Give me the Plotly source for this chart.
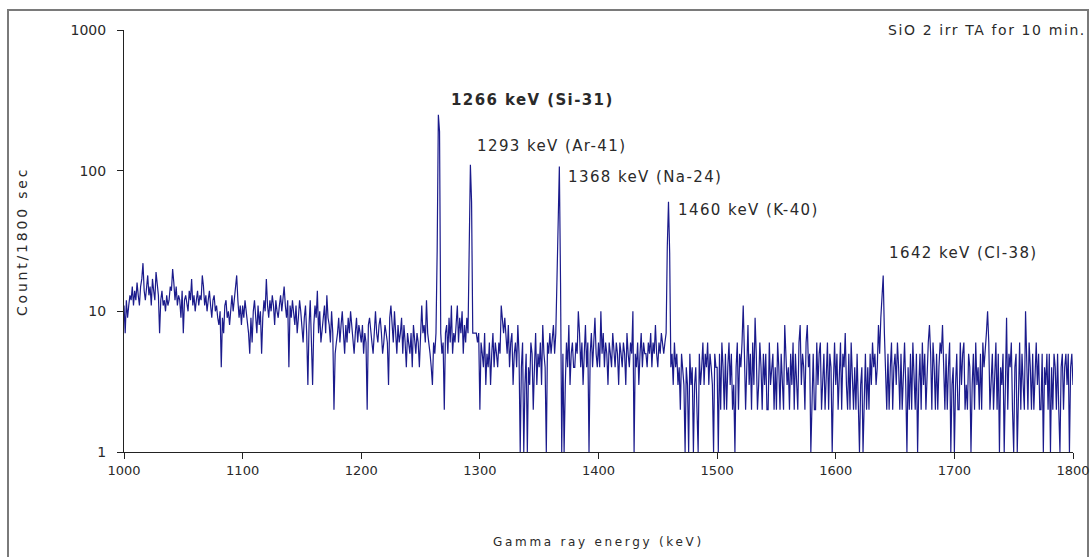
import plotly.graph_objects as go
import numpy as np

# Counts per 1 keV channel, split by 100 keV blocks
counts_1000 = [11, 7, 12, 9, 11, 13, 12, 15, 11, 14, 12, 16, 13, 11, 15, 17, 22, 14, 12, 16,
               18, 13, 15, 11, 17, 14, 12, 19, 15, 13, 7, 12, 14, 11, 12, 10, 13, 11, 12, 15,
               14, 20, 16, 12, 15, 11, 13, 12, 9, 14, 7, 12, 13, 11, 10, 14, 12, 17, 11, 13,
               10, 12, 14, 11, 13, 12, 18, 15, 11, 13, 10, 12, 14, 11, 9, 12, 13, 10, 11, 9,
               8, 10, 4, 9, 7, 11, 12, 9, 10, 8, 11, 13, 10, 12, 14, 18, 12, 9, 11, 8]
counts_1100 = [11, 9, 12, 10, 8, 7, 5, 9, 6, 10, 12, 9, 7, 11, 8, 10, 5, 9, 12, 10,
               17, 11, 9, 12, 10, 13, 11, 8, 12, 10, 9, 11, 13, 10, 12, 15, 11, 9, 12, 4,
               11, 9, 12, 10, 8, 11, 7, 9, 12, 10, 8, 6, 9, 11, 7, 3, 8, 12, 6, 3,
               8, 11, 9, 14, 7, 10, 6, 8, 9, 11, 7, 13, 9, 8, 6, 10, 7, 2, 5, 6,
               7, 9, 6, 8, 10, 7, 5, 8, 6, 9, 7, 10, 8, 6, 5, 7, 9, 6, 8, 7]
counts_1200 = [6, 8, 5, 7, 6, 2, 8, 9, 7, 6, 5, 8, 10, 7, 6, 8, 9, 7, 5, 6,
               8, 7, 6, 3, 9, 11, 8, 6, 10, 7, 5, 8, 6, 7, 9, 5, 8, 6, 4, 7,
               6, 5, 7, 4, 8, 6, 5, 7, 6, 4, 6, 11, 7, 8, 6, 12, 7, 6, 5, 4,
               3, 6, 5, 7, 27, 250, 190, 7, 5, 6, 2, 7, 8, 5, 9, 6, 11, 5, 7, 6,
               8, 11, 6, 9, 7, 10, 5, 8, 6, 9, 7, 26, 110, 60, 7, 7, 7, 7, 6, 7]
counts_1300 = [2, 6, 5, 4, 7, 3, 5, 4, 6, 3, 5, 7, 4, 6, 5, 4, 6, 5, 11, 8,
               7, 9, 6, 5, 8, 4, 6, 7, 3, 5, 6, 4, 8, 5, 1, 4, 6, 1, 3, 5,
               1, 4, 3, 6, 5, 2, 4, 7, 3, 5, 4, 6, 3, 8, 5, 4, 1, 6, 5, 7,
               5, 6, 8, 5, 7, 17, 65, 107, 16, 1, 5, 1, 3, 6, 4, 8, 3, 5, 6, 4,
               4, 6, 5, 10, 7, 4, 6, 3, 5, 8, 4, 6, 1, 5, 7, 4, 6, 9, 5, 4]
counts_1400 = [6, 4, 10, 5, 7, 4, 6, 5, 3, 6, 5, 4, 7, 5, 4, 6, 5, 3, 6, 5,
               4, 6, 5, 3, 7, 5, 4, 6, 5, 10, 1, 5, 4, 6, 3, 5, 7, 4, 6, 5,
               5, 4, 6, 5, 7, 4, 6, 5, 8, 5, 4, 6, 5, 7, 6, 5, 6, 7, 29, 60,
               26, 4, 5, 3, 6, 4, 5, 3, 4, 2, 5, 4, 3, 1, 4, 3, 1, 5, 3, 4,
               1, 3, 4, 2, 1, 5, 3, 4, 6, 3, 5, 4, 6, 3, 5, 4, 3, 1, 5, 4]
counts_1500 = [4, 1, 5, 2, 6, 4, 2, 5, 2, 4, 6, 3, 5, 2, 3, 1, 4, 6, 2, 5,
               4, 6, 11, 5, 2, 4, 8, 3, 5, 2, 6, 3, 9, 5, 2, 3, 6, 4, 2, 5,
               3, 5, 2, 2, 6, 3, 4, 5, 2, 4, 2, 6, 4, 2, 5, 3, 2, 8, 5, 3,
               4, 2, 5, 3, 6, 2, 5, 3, 2, 6, 8, 3, 5, 4, 2, 6, 8, 4, 5, 1,
               3, 5, 2, 2, 6, 3, 5, 6, 2, 3, 5, 2, 4, 6, 2, 5, 4, 1, 3, 6]
counts_1600 = [3, 5, 2, 4, 6, 2, 5, 4, 7, 3, 2, 5, 2, 6, 3, 2, 4, 2, 5, 2,
               1, 3, 4, 1, 2, 5, 2, 4, 2, 5, 3, 6, 4, 5, 3, 4, 8, 5, 9, 13,
               18, 7, 4, 2, 5, 2, 4, 6, 2, 4, 5, 3, 6, 4, 2, 5, 2, 4, 6, 3,
               1, 4, 2, 5, 2, 6, 3, 2, 5, 1, 3, 5, 2, 6, 3, 5, 2, 4, 6, 8,
               5, 2, 6, 4, 2, 5, 2, 4, 6, 5, 8, 4, 2, 5, 2, 4, 6, 1, 3, 4]
counts_1700 = [1, 3, 5, 2, 2, 6, 3, 5, 6, 2, 3, 2, 5, 4, 1, 3, 5, 2, 6, 3,
               4, 2, 5, 2, 6, 4, 5, 7, 10, 6, 2, 3, 5, 2, 4, 6, 2, 5, 1, 4,
               3, 5, 1, 4, 9, 2, 5, 4, 6, 2, 1, 4, 5, 1, 3, 6, 2, 5, 3, 2,
               10, 5, 2, 6, 4, 2, 5, 2, 4, 6, 3, 5, 2, 2, 5, 1, 4, 3, 5, 2,
               5, 1, 4, 2, 5, 4, 2, 5, 2, 1, 4, 5, 2, 4, 5, 3, 5, 1, 4, 5]
counts_1800 = [3]

counts = (counts_1000 + counts_1100 + counts_1200 + counts_1300 + counts_1400
          + counts_1500 + counts_1600 + counts_1700 + counts_1800)
energy = list(range(1000, 1000 + len(counts)))

# Peak labels
peak_energy = [1265, 1292, 1367, 1459, 1640]
peak_count = [250, 110, 107, 60, 18]
peak_text = ["1266 keV (Si-31)", "1293 keV (Ar-41)", "1368 keV (Na-24)",
             "1460 keV (K-40)", "1642 keV (Cl-38)"]

x_ticks = [1000, 1100, 1200, 1300, 1400, 1500, 1600, 1700, 1800]
y_ticks = [1, 10, 100, 1000]

FONT = "DejaVu Sans"
TXT = "#2a2a2a"

fig = go.Figure()
fig.add_trace(go.Scatter(x=energy, y=counts, mode="lines",
                         line=dict(color="#1b1b8c", width=1.2), showlegend=False,
                         hoverinfo="x+y"))

# label styling (kept out of data arrays)
label_shift = [(11, 15), (5, 19), (7, -10), (8, -8), (4, 22)]
label_bold = [True, False, False, False, False]
for e, c, t, (dx, dy), b in zip(peak_energy, peak_count, peak_text, label_shift, label_bold):
    txt = f'<span style="letter-spacing:1.4px">{t}</span>'
    if b:
        txt = f'<b>{txt}</b>'
    fig.add_annotation(x=e, y=np.log10(c), xref="x", yref="y", text=txt,
                       showarrow=False, xanchor="left", yanchor="middle",
                       xshift=dx, yshift=dy,
                       font=dict(family=FONT, size=15, color=TXT))

L, R, T, B = 124, 17, 30, 105
W, H = 1090, 557
pw, ph = W - L - R, H - T - B


def px(x):
    return (x - L) / pw


def py(y):
    return (H - B - y) / ph


fig.add_annotation(x=px(1088), y=py(30), xref="paper", yref="paper",
                   text='<span style="letter-spacing:1.6px">SiO 2 irr TA for 10 min.</span>',
                   showarrow=False, xanchor="right", yanchor="middle",
                   font=dict(family=FONT, size=14, color=TXT))
fig.add_annotation(x=px(598), y=py(542), xref="paper", yref="paper",
                   text='<span style="letter-spacing:2.7px">Gamma ray energy (keV)</span>',
                   showarrow=False, xanchor="center", yanchor="middle",
                   font=dict(family=FONT, size=12, color=TXT))
fig.add_annotation(x=px(22), y=py(242), xref="paper", yref="paper",
                   text='<span style="letter-spacing:2.8px">Count/1800 sec</span>',
                   showarrow=False, xanchor="center", yanchor="middle", textangle=-90,
                   font=dict(family=FONT, size=14, color=TXT))

# outer frame
fig.add_shape(type="rect", xref="paper", yref="paper",
              x0=px(8), x1=px(1088), y0=py(600), y1=py(10),
              line=dict(color="#7a7a7a", width=2), layer="below")

fig.update_layout(
    width=W, height=H,
    margin=dict(l=L, r=R, t=T, b=B, autoexpand=False),
    paper_bgcolor="white", plot_bgcolor="white",
    xaxis=dict(range=[1000, 1800], tickvals=x_ticks, showgrid=False, zeroline=False,
               showline=True, linecolor="#222", linewidth=1, ticks="outside",
               ticklen=6, tickcolor="#222", ticklabeloverflow="allow", automargin=False,
               tickfont=dict(family=FONT, size=13, color=TXT)),
    yaxis=dict(type="log", range=[0, 3], tickvals=y_ticks, ticktext=[str(v) for v in y_ticks],
               showgrid=False, zeroline=False, showline=True, linecolor="#222",
               linewidth=1, ticks="outside", ticklen=6, tickcolor="#222",
               ticklabelstandoff=8, automargin=False,
               tickfont=dict(family=FONT, size=14, color=TXT)),
)

fig.write_html("out.html")
